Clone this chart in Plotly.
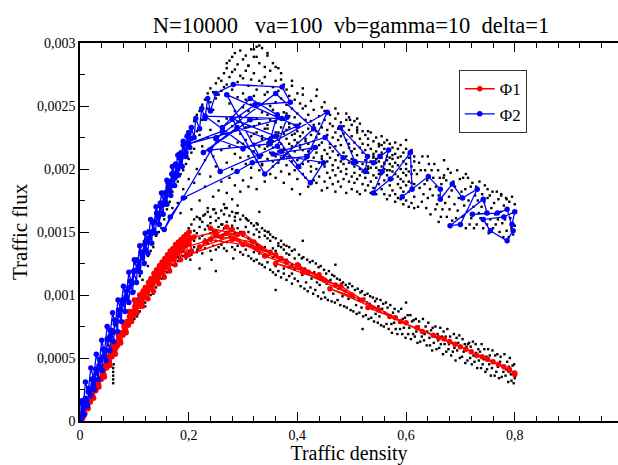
import plotly.graph_objects as go

# ---------------- data (flux values below are in units of 1e-4) ----------------
x_ticks = [0, 0.2, 0.4, 0.6, 0.8]
x_ticktext = ["0", "0,2", "0,4", "0,6", "0,8"]
y_ticks = [0, 0.0005, 0.001, 0.0015, 0.002, 0.0025, 0.003]
y_ticktext = ["0", "0,0005", "0,001", "0,0015", "0,002", "0,0025", "0,003"]

# black simulation points read column by column: (density, [lower-branch flux], [upper-branch flux])
cloud_columns = [
    (0.100,[8.1,9.4,8.8],[10.3,12.5,11.8]),
    (0.105,[9.7,8.5,9.2,8.3],[12.9,10.9]),
    (0.110,[9.0,10.1,8.7],[11.5,13.4,12.2]),
    (0.115,[10.4,9.3,9.9],[12.8,11.2,14.0]),
    (0.120,[9.4,10.7,10.1,9.1],[14.4,12.6]),
    (0.125,[10.9,9.8,10.4],[13.1,15.1,12.3]),
    (0.130,[10.0,11.4,10.8],[14.6,13.5]),
    (0.135,[11.6,10.3,11.0,10.1],[13.8,15.9,14.9]),
    (0.140,[10.6,12.0,11.3],[16.2,14.7]),
    (0.145,[11.9,10.9,12.4],[15.0,17.0,15.9]),
    (0.150,[11.3,12.7,11.7,12.1],[16.6,15.3]),
    (0.155,[12.9,11.6,12.4],[17.5,16.0,18.1]),
    (0.160,[11.8,13.2,12.6],[16.8,18.6]),
    (0.165,[13.4,12.1,12.9,11.9],[17.4,19.1,18.0]),
    (0.170,[12.4,13.7,13.0],[19.5,18.2,16.9]),
    (0.175,[13.9,12.5,13.3],[18.6,20.3,19.4]),
    (0.180,[12.7,14.2,13.6,13.0],[19.0,20.8,17.3]),
    (0.185,[14.4,12.8,13.9],[20.5,19.6,21.4,16.5]),
    (0.190,[13.1,14.7,13.5],[21.2,19.9,18.4]),
    (0.195,[14.9,13.3,14.2,12.9],[20.4,22.1,17.7]),
    (0.200,[13.5,15.3,14.0],[21.6,22.8,20.8,19.2]),
    (0.205,[15.6,13.2,14.6],[23.2,21.3,16.8]),
    (0.210,[13.8,15.1,14.3,16.0],[22.4,23.8,18.9,21.6]),
    (0.215,[14.9,13.4,16.2],[23.0,24.3,20.0]),
    (0.220,[16.1,13.9,15.4,14.5],[24.6,22.7,17.5,19.6]),
    (0.225,[13.3,15.8,14.7],[23.9,25.1,21.8]),
    (0.230,[15.2,16.4,13.7,14.4],[25.5,24.2,18.6,20.7]),
    (0.235,[14.1,16.6,15.5],[24.8,26.0,22.5,16.9]),
    (0.240,[16.2,13.5,14.9,15.7],[25.3,26.4,19.4,23.1]),
    (0.245,[13.9,16.8,15.1],[26.1,24.7,21.0,17.8]),
    (0.250,[15.9,14.3,16.5,13.6],[26.8,25.6,20.2,22.6]),
    (0.255,[14.6,16.1,13.8,15.4],[25.9,27.2,18.3,23.8]),
    (0.260,[16.7,14.0,15.6],[27.0,26.2,21.5,19.0]),
    (0.265,[13.7,15.3,16.4,14.8],[26.5,27.6,22.9,17.2]),
    (0.270,[15.8,14.2,16.9,13.5],[28.0,26.7,24.0,20.5,18.1]),
    (0.275,[14.6,16.3,15.1],[27.3,28.6,21.8,25.2,19.3]),
    (0.280,[16.6,13.8,15.5,14.4],[26.3,28.9,23.4,20.0,27.7,17.6]),
    (0.285,[13.6,15.9,14.9,16.2],[27.9,24.6,21.2,29.2,18.7]),
    (0.290,[15.3,16.5,13.9],[25.7,28.3,22.1,26.9,19.8,23.7]),
    (0.295,[14.2,13.4,16.0,15.0],[27.4,24.2,29.4,20.9,22.8,18.2]),
    (0.300,[16.3,14.7,13.2],[26.0,28.7,21.5,24.9,19.1,27.2]),
    (0.305,[15.4,13.6,16.1,14.0],[23.3,29.0,25.5,20.4,27.8,22.3]),
    (0.310,[13.1,15.0,14.5,15.9],[28.2,24.6,21.0,26.6,18.6,23.9]),
    (0.315,[15.7,12.9,14.2],[25.1,29.5,22.6,27.1,20.1,19.3]),
    (0.320,[14.8,13.4,15.5,12.7],[27.6,23.4,28.9,21.4,25.8,22.0]),
    (0.325,[12.8,15.2,14.0,15.7],[24.0,29.7,26.3,20.7,22.9,18.4]),
    (0.330,[15.0,13.3,12.5,14.6],[28.4,25.2,21.8,27.0,23.6,19.9]),
    (0.335,[13.7,15.3,12.4],[26.8,29.6,22.4,24.5,20.3,21.1]),
    (0.340,[14.7,12.2,13.8,15.1],[23.2,28.1,25.9,21.6,27.3,19.0]),
    (0.345,[12.6,14.5,13.1,15.0],[29.0,24.3,22.1,26.1,20.8,23.5]),
    (0.350,[14.3,12.0,14.8,13.4],[25.0,27.8,21.3,23.9,19.6,22.5]),
    (0.355,[13.0,14.6,11.8,13.7],[28.4,22.2,24.7,20.2,26.5,21.7]),
    (0.360,[14.5,12.3,13.5,11.6],[23.7,27.0,21.0,25.3,19.3,22.9]),
    (0.365,[11.9,14.1,12.7,13.9],[26.2,22.6,24.1,20.5,28.0,21.4]),
    (0.370,[13.8,11.4,12.9,14.3],[22.0,25.6,23.3,19.8,27.1,20.9]),
    (0.375,[12.1,13.6,11.7,14.0],[24.5,21.6,26.7,22.8,18.9,23.9]),
    (0.380,[13.9,11.2,12.8,13.3],[21.2,25.1,23.1,20.3,26.3,22.4]),
    (0.385,[11.5,13.2,12.2,13.8],[24.2,22.0,19.6,25.8,21.0,23.6]),
    (0.390,[13.5,10.9,12.4,11.7],[20.6,24.8,22.7,26.6,21.8,18.4]),
    (0.395,[12.0,13.6,11.3,12.9],[23.5,21.4,25.5,19.9,22.3,24.1]),
    (0.400,[],[22.1,24.4,20.7,26.0,23.0,19.2]),
    (0.405,[],[25.2,21.7,23.6,20.1,22.6,18.0]),
    (0.410,[],[22.9,20.4,24.8,21.5,25.9,19.6]),
    (0.415,[],[21.1,23.9,19.3,22.2,25.0,20.8]),
    (0.420,[],[24.3,22.0,20.6,23.2,18.6,21.4]),
    (0.425,[],[22.7,25.4,19.8,21.6,23.8,20.2]),
    (0.430,[],[20.9,23.5,22.2,24.7,19.1,21.8]),
    (0.435,[],[23.0,21.3,25.8,20.0,22.5,18.9]),
    (0.440,[],[21.9,24.2,20.5,22.8,19.4,23.6]),
    (0.445,[],[24.9,21.0,23.3,20.8,22.1,18.3]),
    (0.450,[],[22.4,20.2,23.9,21.5,19.0,24.6]),
    (0.455,[],[21.2,23.1,19.7,22.7,20.6,18.5]),
    (0.460,[],[23.6,20.9,22.0,24.3,19.3,21.7]),
    (0.465,[],[22.5,20.3,21.4,23.4,18.8,19.9]),
    (0.470,[],[20.7,22.9,21.8,24.0,19.5,18.2]),
    (0.475,[],[23.2,21.1,20.1,22.3,19.0,24.4]),
    (0.480,[],[21.9,19.8,23.7,20.6,22.6,18.6]),
    (0.485,[],[20.4,22.8,21.3,19.2,23.4,20.9]),
    (0.490,[],[22.3,21.0,19.6,23.9,20.0,18.1]),
    (0.495,[],[21.7,23.1,20.5,19.0,22.0,24.1]),
    (0.500,[],[20.8,22.6,19.4,21.4,23.5,18.4]),
    (0.505,[],[22.1,20.2,23.8,19.7,21.6,18.9]),
    (0.510,[],[21.1,19.2,22.9,20.5,18.2,23.3]),
    (0.515,[],[20.0,22.4,21.7,19.5,23.6,18.0]),
    (0.520,[],[22.0,20.4,18.8,21.3,19.8,23.0]),
    (0.525,[],[21.5,19.3,22.7,20.7,18.3,20.0]),
    (0.530,[],[20.2,21.9,19.7,22.4,18.7,21.1]),
    (0.535,[],[21.6,19.0,20.6,22.9,20.1,18.1]),
    (0.540,[],[19.5,21.2,20.4,22.2,18.5,20.9]),
    (0.545,[],[20.8,22.5,19.3,21.4,18.0,20.1]),
    (0.550,[],[21.8,19.9,20.6,18.8,22.0,21.1]),
    (0.555,[],[19.6,21.3,20.2,22.6,18.4,20.9]),
    (0.560,[],[20.5,22.1,19.1,21.6,18.0,20.0]),
    (0.565,[],[21.0,19.5,20.7,22.3,17.6,19.9]),
    (0.570,[],[19.9,21.5,18.7,20.4,22.0,17.9]),
    (0.575,[],[20.8,19.2,21.7,18.3,20.2,21.1]),
    (0.580,[],[19.6,21.2,20.5,18.0,22.1,17.4]),
    (0.585,[],[20.3,18.8,21.6,19.4,17.7,20.9]),
    (0.590,[],[21.0,19.2,20.0,17.6,21.9,18.5]),
    (0.595,[],[19.7,21.3,18.2,20.6,17.2,19.0]),
    (0.600,[],[20.4,18.7,21.6,19.5,17.5,20.0]),
    (0.605,[],[19.0,20.9,18.2,21.2,17.0,19.8]),
    (0.610,[],[20.2,18.5,19.6,21.5,17.3,18.9]),
    (0.615,[],[18.8,20.6,17.8,19.9,21.0,16.9]),
]

# black points of the lower branch tail, read individually (density, flux)
lower_tail = [
    (0.401,11.1),(0.403,13.2),(0.404,12.4),(0.406,10.7),(0.408,12.9),(0.409,11.6),(0.411,13.0),
    (0.413,10.5),(0.414,12.1),(0.416,11.0),(0.418,12.8),(0.419,10.3),(0.421,11.9),(0.423,12.6),
    (0.424,10.6),(0.426,11.3),(0.428,12.7),(0.429,10.1),(0.431,11.8),(0.433,10.4),(0.434,12.5),
    (0.436,11.0),(0.438,9.9),(0.439,12.2),(0.441,10.8),(0.443,12.3),(0.444,9.7),(0.446,11.4),
    (0.448,10.2),(0.449,12.0),(0.451,9.8),(0.453,11.7),(0.454,10.9),(0.456,9.6),(0.458,11.9),
    (0.459,10.4),(0.461,11.2),(0.463,9.5),(0.464,11.6),(0.466,10.1),(0.468,11.5),(0.469,9.4),
    (0.471,10.8),(0.473,11.3),(0.474,9.6),(0.476,10.5),(0.478,11.2),(0.479,9.2),(0.481,10.9),
    (0.483,9.9),(0.484,11.0),(0.486,9.1),(0.488,10.3),(0.489,10.8),(0.491,9.0),(0.493,10.6),
    (0.494,9.7),(0.496,10.9),(0.498,8.8),(0.499,10.1),(0.501,10.7),(0.503,8.7),(0.504,9.8),
    (0.506,10.4),(0.508,9.2),(0.509,8.5),(0.511,10.5),(0.513,9.6),(0.514,8.6),(0.516,10.2),
    (0.518,9.0),(0.519,10.3),(0.521,8.3),(0.523,9.7),(0.524,10.0),(0.526,8.4),(0.528,9.4),
    (0.529,10.1),(0.531,8.1),(0.533,9.3),(0.534,9.9),(0.536,8.2),(0.538,8.9),(0.539,9.8),
    (0.541,7.9),(0.543,9.5),(0.544,8.5),(0.546,9.7),(0.548,7.8),(0.549,9.1),(0.551,8.3),
    (0.553,9.6),(0.554,7.6),(0.556,8.9),(0.558,9.3),(0.559,7.5),(0.561,8.6),(0.563,9.4),
    (0.564,7.7),
    (0.566,9.0),(0.568,7.3),(0.569,8.3),(0.571,9.2),(0.573,7.7),(0.574,7.0),(0.576,8.6),
    (0.578,7.8),(0.579,8.9),(0.581,7.3),(0.583,8.2),(0.584,6.9),(0.586,8.7),(0.588,7.8),
    (0.589,7.3),(0.591,8.9),(0.593,6.9),(0.594,8.1),(0.596,7.4),(0.598,8.2),(0.599,6.6),
    (0.601,7.8),(0.603,8.4),(0.604,6.9),(0.606,7.4),(0.608,8.4),(0.609,6.5),(0.611,7.9),
    (0.613,6.9),(0.614,8.0),(0.616,6.7),(0.618,8.1),(0.619,7.1),(0.621,6.2),(0.623,7.5),
    (0.624,7.9),(0.626,6.3),(0.628,7.2),(0.629,6.7),(0.631,8.1),(0.633,6.4),(0.634,6.9),
    (0.636,7.5),(0.638,6.0),(0.639,7.1),(0.641,7.8),(0.643,6.6),(0.644,6.0),(0.646,7.2),
    (0.648,5.6),(0.649,7.4),(0.651,6.2),(0.653,6.7),(0.654,7.5),(0.656,5.7),(0.658,6.9),
    (0.659,6.4),(0.661,5.8),(0.663,7.4),(0.664,6.1),(0.666,6.7),(0.668,5.3),(0.669,7.1),
    (0.671,6.1),(0.673,6.7),(0.674,5.5),(0.676,7.3),(0.678,5.7),(0.679,6.1),(0.681,6.7),
    (0.683,5.2),(0.684,6.2),(0.686,5.5),(0.688,6.9),(0.689,5.8),(0.691,4.8),(0.693,6.6),
    (0.694,5.6),(0.696,6.2),(0.698,6.8),(0.699,5.0),(0.701,5.9),(0.703,5.1),(0.704,6.5),
    (0.706,5.5),(0.708,6.1),(0.709,4.6),(0.711,5.9),(0.713,4.8),(0.714,6.1),(0.716,6.2),
    (0.718,5.0),(0.719,5.9),(0.721,4.5),(0.723,6.3),(0.724,5.2),(0.726,4.7),(0.728,6.1),
    (0.729,5.4),(0.731,4.2),(0.733,5.7),(0.734,4.8),(0.736,5.5),(0.738,4.2),(0.739,6.1),
    (0.741,4.5),(0.743,4.9),(0.744,5.7),(0.746,3.9),(0.748,5.1),(0.749,4.1),(0.751,5.7),
    (0.753,4.5),(0.754,5.2),(0.756,3.6),(0.758,4.2),(0.759,5.6),(0.761,4.7),(0.763,3.6),
    (0.764,5.2),(0.766,3.9),(0.768,5.3),(0.769,4.3),(0.771,3.4),(0.773,4.7),(0.774,5.1),
    (0.776,3.5),(0.778,4.4),(0.779,3.9),(0.781,5.3),(0.783,3.6),(0.784,4.1),(0.786,4.7),
    (0.788,3.1),(0.789,4.3),(0.791,5.0),(0.793,3.7),(0.794,3.2),(0.796,4.4),(0.798,3.0),
    (0.799,4.5),(0.800,3.4),
]

# black points of the upper branch tail, read individually (density, flux)
upper_tail = [
    (0.620,19.6),(0.622,17.0),(0.624,20.5),(0.625,18.5),(0.627,19.9),(0.629,17.4),(0.630,21.0),
    (0.632,18.0),(0.634,18.8),(0.635,19.9),(0.637,16.9),(0.639,19.1),(0.640,17.7),(0.642,20.4),
    (0.644,18.4),(0.645,16.4),(0.647,19.9),(0.649,17.9),(0.650,19.3),(0.652,20.4),(0.654,16.8),
    (0.655,18.6),(0.657,17.2),(0.659,19.9),(0.660,17.9),(0.662,19.3),(0.664,16.2),(0.665,18.8),
    (0.667,16.8),(0.669,19.3),
    (0.670,19.5),(0.672,17.3),(0.674,19.1),(0.675,16.2),(0.677,20.0),(0.679,17.8),(0.680,16.8),
    (0.682,19.7),(0.684,18.3),(0.685,15.9),(0.687,19.0),(0.689,17.2),(0.690,18.6),(0.692,16.1),
    (0.694,19.9),(0.695,16.7),(0.697,17.7),(0.699,19.2),(0.700,15.6),(0.702,18.2),(0.704,16.2),
    (0.705,19.3),(0.707,17.1),(0.709,18.4),(0.710,15.3),(0.712,16.6),(0.714,19.3),(0.715,17.5),
    (0.717,15.6),(0.719,18.6),
    (0.720,16.1),(0.722,18.9),(0.724,17.0),(0.725,15.3),(0.727,17.9),(0.729,18.6),(0.730,15.6),
    (0.732,17.5),(0.734,16.5),(0.735,19.0),(0.737,16.1),(0.739,17.0),(0.740,18.0),(0.742,15.3),
    (0.744,17.4),(0.745,18.7),(0.747,16.5),(0.749,15.6),(0.750,17.7),(0.752,14.9),(0.754,17.9),
    (0.755,16.0),(0.757,16.9),(0.759,18.2),(0.760,15.3),(0.762,17.3),(0.764,16.4),(0.765,15.6),
    (0.767,18.2),(0.769,16.0),
    (0.770,17.6),(0.772,15.0),(0.774,16.6),(0.775,18.0),(0.777,15.7),(0.779,14.6),(0.780,17.1),
    (0.782,16.0),(0.784,17.7),(0.785,15.1),(0.787,16.7),(0.789,14.6),(0.790,17.4),(0.792,16.1),
    (0.794,15.3),(0.795,17.8),(0.797,14.8),(0.799,16.6),(0.800,15.5),
]

# further black simulation points read individually (density, flux)
extra_points = [
    (0.061,3.0),(0.061,3.3),(0.061,3.6),(0.061,3.9),(0.061,4.2),(0.062,4.5),
    (0.198,15.0),(0.203,12.8),(0.221,16.0),(0.216,13.6),(0.227,16.3),(0.247,16.8),(0.242,12.8),
    (0.267,16.9),(0.262,15.6),(0.287,16.5),(0.282,12.9),(0.307,16.0),(0.327,15.6),(0.347,15.0),
    (0.33,16.6),(0.29,17.1),(0.41,14.3),(0.25,11.9),(0.36,10.4),(0.47,12.4),(0.52,7.3),
    (0.60,9.4),(0.22,12.1),
    (0.270,28.4),(0.320,29.5),(0.330,29.8),(0.345,29.2),(0.325,28.9),(0.310,28.2),(0.360,28.1),
    (0.370,27.6),(0.390,27.0),(0.410,26.4),(0.436,26.3),(0.450,25.3),(0.470,24.8),(0.490,24.4),
    (0.510,24.0),(0.530,23.0),(0.497,23.9),
    (0.300,22.0),(0.320,22.8),(0.335,20.4),(0.345,23.2),(0.355,22.5),(0.365,21.7),(0.375,20.9),
    (0.385,19.6),(0.395,22.8),(0.405,21.9),(0.415,22.4),(0.330,23.6),(0.360,23.8),(0.380,24.4),
    (0.310,23.4),(0.355,20.6),(0.365,22.9),(0.375,21.5),(0.345,21.8),(0.335,22.6),(0.385,23.3),
    (0.530,20.0),(0.540,21.0),(0.550,19.6),(0.560,20.4),(0.570,20.9),(0.545,20.5),(0.555,21.9),
    (0.575,19.8),(0.600,22.3),(0.510,23.1),(0.670,20.7),(0.710,19.6),(0.640,21.0),(0.660,15.8),
    (0.785,17.6),(0.800,17.2),(0.750,18.4),(0.775,17.9),
]

# Phi1 trajectory (red), (density, flux)
phi1 = [
    (0.000,0.0),(0.006,0.4),(0.012,1.2),(0.018,1.5),(0.024,2.3),(0.030,2.6),(0.036,3.4),
    (0.042,3.7),(0.048,4.5),(0.054,4.8),(0.060,5.6),(0.066,5.8),(0.072,6.6),(0.078,6.9),
    (0.084,7.6),(0.090,7.9),(0.096,8.6),(0.102,8.9),(0.108,9.5),(0.114,9.8),(0.120,10.4),
    (0.126,10.6),(0.132,11.2),(0.138,11.4),(0.144,11.9),(0.150,12.1),(0.156,12.6),(0.162,12.8),
    (0.168,13.2),(0.174,13.4),(0.180,13.7),(0.186,13.9),(0.192,14.2),(0.198,14.3),(0.204,14.5),
    (0.205,13.5),(0.200,14.6),(0.195,13.1),(0.190,14.2),(0.185,12.8),(0.180,13.9),(0.175,12.4),
    (0.170,13.4),(0.165,11.9),(0.160,12.9),(0.155,11.4),(0.150,12.4),(0.145,10.9),(0.140,11.8),
    (0.135,10.3),(0.130,11.2),(0.125,9.7),(0.120,10.6),(0.115,9.1),(0.110,10.0),(0.105,8.6),
    (0.100,9.6),(0.095,7.9),(0.090,8.7),(0.085,7.0),(0.080,7.8),(0.075,6.2),(0.070,6.9),
    (0.065,5.3),(0.060,6.0),(0.055,4.4),(0.050,5.1),(0.045,3.5),(0.040,4.2),(0.035,2.7),
    (0.030,3.3),(0.025,1.8),(0.020,2.4),(0.015,1.0),(0.010,1.5),(0.005,0.2),(0.002,0.6),
    (0.002,0.2),(0.006,0.7),(0.005,0.3),(0.011,1.1),(0.009,0.6),(0.016,1.6),(0.014,1.0),
    (0.021,2.0),(0.019,1.5),(0.026,2.5),(0.024,1.9),(0.031,3.0),(0.029,2.4),(0.036,3.4),
    (0.034,2.9),(0.041,3.9),(0.039,3.3),(0.046,4.4),(0.044,3.7),(0.051,4.8),(0.049,4.2),
    (0.056,5.3),(0.054,4.6),(0.061,5.7),(0.059,5.1),(0.066,6.2),(0.064,5.5),(0.071,6.6),
    (0.069,6.0),(0.076,7.0),(0.074,6.4),(0.081,7.5),(0.079,6.8),(0.086,7.9),(0.084,7.2),
    (0.091,8.3),(0.089,7.6),(0.096,8.7),(0.094,8.0),(0.101,9.1),(0.099,8.4),(0.106,9.5),
    (0.104,8.7),(0.111,9.9),(0.109,9.1),(0.116,10.3),(0.114,9.5),(0.121,10.6),(0.119,9.8),
    (0.126,11.0),(0.124,10.2),(0.131,11.3),(0.129,10.5),(0.136,11.7),(0.134,10.8),(0.141,12.0),
    (0.139,11.1),(0.146,12.3),(0.144,11.4),(0.151,12.6),(0.149,11.7),(0.156,12.9),(0.154,12.0),
    (0.161,13.2),(0.159,12.2),(0.166,13.5),(0.164,12.5),(0.171,13.7),(0.169,12.8),(0.176,14.0),
    (0.174,13.0),(0.181,14.2),(0.179,13.3),(0.186,14.4),(0.184,13.5),(0.191,14.6),(0.189,13.7),
    (0.196,14.8),(0.194,13.9),(0.201,15.0),(0.199,14.1),
    (0.21,14.6),(0.25,15.0),(0.23,14.2),(0.28,15.2),(0.26,14.6),(0.24,15.3),(0.29,14.8),
    (0.22,13.8),(0.27,15.4),(0.32,14.2),(0.25,14.7),(0.30,14.9),(0.35,13.4),(0.28,14.4),
    (0.20,13.2),(0.18,13.6),(0.24,14.4),(0.33,13.8),(0.38,12.6),(0.30,14.0),(0.36,13.2),
    (0.42,11.8),(0.34,13.1),(0.27,14.9),(0.37,12.9),(0.45,11.2),(0.40,12.4),(0.47,10.8),
    (0.36,12.5),(0.44,11.6),(0.50,10.0),(0.41,11.8),(0.48,10.7),(0.55,8.8),(0.46,10.5),
    (0.52,9.6),(0.58,8.2),(0.53,9.0),(0.60,7.8),(0.57,8.3),(0.63,7.1),(0.59,7.9),(0.66,6.6),
    (0.62,7.4),(0.68,6.3),(0.65,6.8),(0.70,5.9),(0.67,6.5),(0.72,5.5),(0.69,6.1),(0.74,5.1),
    (0.71,5.7),(0.76,4.7),(0.73,5.2),(0.78,4.3),(0.75,4.9),(0.79,4.0),(0.77,4.5),(0.80,3.8),
    (0.79,4.1),(0.80,3.7),
]

# Phi2 trajectory (blue), (density, flux)
phi2 = [
    (0.000,0.0),(0.006,1.0),(0.012,1.5),(0.018,2.4),(0.024,2.9),(0.030,3.8),(0.036,4.2),
    (0.042,5.1),(0.048,5.6),(0.054,6.5),(0.060,7.0),(0.066,7.9),(0.072,8.4),(0.078,9.3),
    (0.084,9.7),(0.090,10.6),(0.096,11.0),(0.102,11.9),(0.108,12.3),(0.114,13.2),(0.120,13.6),
    (0.126,14.5),(0.132,14.9),(0.138,15.8),(0.144,16.2),(0.150,17.1),(0.156,17.4),(0.162,18.3),
    (0.168,18.7),(0.174,19.6),(0.180,20.0),(0.186,20.9),(0.192,21.2),(0.198,22.0),(0.204,22.4),
    (0.200,22.9),(0.195,21.3),(0.190,22.2),(0.185,20.3),(0.180,21.1),(0.175,19.3),(0.170,20.2),
    (0.165,18.4),(0.160,19.1),(0.155,17.2),(0.150,18.1),(0.145,16.3),(0.140,17.0),(0.135,15.1),
    (0.130,16.0),(0.125,14.2),(0.120,14.9),(0.115,13.0),(0.110,13.9),(0.105,12.0),(0.100,12.8),
    (0.095,10.9),(0.090,11.8),(0.085,9.9),(0.080,10.7),(0.075,8.8),(0.070,9.6),(0.065,7.7),
    (0.060,8.6),(0.055,6.7),(0.050,7.5),(0.045,5.5),(0.040,6.4),(0.035,4.4),(0.030,5.3),
    (0.025,3.4),(0.020,4.2),(0.015,2.3),(0.010,3.1),(0.006,1.2),(0.003,1.6),(0.001,0.1),
    (0.002,0.3),(0.004,1.4),(0.008,0.5),(0.010,1.8),(0.014,1.2),(0.016,2.6),(0.020,2.0),
    (0.022,3.3),(0.027,2.5),(0.029,4.1),(0.034,3.3),(0.036,4.9),(0.041,4.0),(0.043,5.7),
    (0.048,4.8),(0.050,6.5),(0.055,5.6),(0.057,7.2),(0.062,6.3),(0.064,8.0),(0.069,7.1),
    (0.071,8.8),(0.076,7.9),(0.078,9.6),(0.083,8.7),(0.085,10.3),(0.090,9.4),(0.092,11.1),
    (0.097,10.2),(0.099,11.9),(0.104,11.0),(0.106,12.7),(0.111,11.8),(0.113,13.4),(0.118,12.5),
    (0.120,14.2),(0.125,13.3),(0.127,15.0),(0.132,14.1),(0.134,15.8),(0.139,14.9),(0.141,16.5),
    (0.146,15.6),(0.148,17.3),(0.153,16.4),(0.155,18.1),(0.160,17.2),(0.162,18.9),(0.167,17.9),
    (0.169,19.6),(0.174,18.7),(0.176,20.4),(0.181,19.5),(0.183,21.2),(0.188,20.2),(0.190,21.9),
    (0.195,21.0),(0.197,22.6),(0.202,21.7),(0.205,23.3),(0.210,22.5),(0.213,24.0),(0.220,23.2),
    (0.224,24.8),(0.230,24.0),(0.235,25.6),(0.240,24.6),(0.250,26.0),
    (0.282,26.7),(0.372,26.5),(0.387,25.3),(0.322,25.1),(0.262,23.3),(0.313,25.6),(0.363,24.3),
    (0.350,22.3),(0.289,23.3),(0.227,21.3),(0.313,23.9),(0.381,24.1),(0.363,21.8),(0.258,19.8),
    (0.239,21.5),(0.350,22.0),(0.455,24.5),(0.418,21.0),(0.317,20.5),(0.289,19.8),(0.190,17.7),
    (0.166,16.2),(0.155,15.2),(0.262,23.0),
    (0.200,22.0),(0.371,24.0),(0.230,24.2),(0.330,21.0),(0.270,25.9),(0.400,23.4),(0.300,21.6),
    (0.250,22.4),(0.360,26.0),(0.430,23.2),(0.340,19.6),(0.280,24.0),
    (0.360,22.6),(0.402,20.2),(0.433,21.7),(0.355,21.2),
    (0.448,20.5),(0.424,18.9),(0.370,21.4),(0.451,22.5),(0.484,20.9),(0.503,20.5),(0.525,19.8),
    (0.529,21.0),(0.479,23.3),(0.506,20.6),(0.540,20.5),(0.552,21.0),(0.568,21.5),(0.556,19.8),
    (0.540,18.1),(0.571,19.2),(0.608,21.3),(0.611,18.4),(0.593,17.8),(0.641,19.4),(0.663,18.4),
    (0.663,17.6),(0.685,18.8),(0.704,17.7),(0.731,18.4),(0.700,15.6),(0.681,15.5),(0.742,17.6),
    (0.749,16.5),(0.722,16.4),(0.768,16.5),(0.786,16.8),(0.797,15.1),(0.786,14.3),(0.755,15.1),
    (0.742,16.0),(0.780,16.2),(0.800,16.6),(0.795,15.6),
]

FLUX_UNIT = 1e-4  # all flux numbers above are in units of 1e-4


def unzip(pairs):
    return [p[0] for p in pairs], [p[1] * FLUX_UNIT for p in pairs]


cloud_pairs = []
for dens, low, up in cloud_columns:
    for f in low + up:
        cloud_pairs.append((dens, f))
cloud_pairs += lower_tail + upper_tail + extra_points

serif = "Liberation Serif, Times New Roman, serif"

fig = go.Figure()

cx, cy = unzip(cloud_pairs)
fig.add_trace(go.Scatter(
    x=cx, y=cy, mode="markers", showlegend=False, hoverinfo="skip",
    marker=dict(symbol="square", size=2.4, color="black", line=dict(width=0)),
))

r_x, r_y = unzip(phi1)
fig.add_trace(go.Scatter(
    x=r_x, y=r_y, mode="lines+markers", name="\u03a61",
    line=dict(color="#ff0000", width=1.3),
    marker=dict(color="#ff0000", size=5.5),
))

b_x, b_y = unzip(phi2)
fig.add_trace(go.Scatter(
    x=b_x, y=b_y, mode="lines+markers", name="\u03a62",
    line=dict(color="#0000ff", width=1.3),
    marker=dict(color="#0000ff", size=5.5),
))

nb = "\u00a0"
title_text = "N=10000" + nb * 3 + "va=100" + nb * 2 + "vb=gamma=10" + nb * 2 + "delta=1"

fig.update_layout(
    width=618, height=465,
    margin=dict(l=80, r=0, t=43, b=42),
    paper_bgcolor="white", plot_bgcolor="white",
    font=dict(family=serif, color="black", size=14),
    title=dict(text=title_text, x=351 / 618, xanchor="center", xref="container",
               y=1 - 25 / 465, yanchor="middle", yref="container",
               font=dict(family=serif, size=22.5, color="black")),
    showlegend=True,
    legend=dict(x=0.704, y=0.928, xanchor="left", yanchor="top",
                bgcolor="white", bordercolor="#333333", borderwidth=1,
                font=dict(family=serif, size=17, color="black"),
                tracegroupgap=0, itemwidth=30),
    xaxis=dict(
        range=[0, 0.99], showgrid=False, zeroline=False,
        showline=True, linecolor="black", linewidth=1.5, mirror="ticks",
        tickmode="array", tickvals=x_ticks, ticktext=x_ticktext,
        ticks="inside", ticklen=9, tickwidth=1.2, tickcolor="black",
        minor=dict(dtick=0.04, tick0=0, ticks="inside", ticklen=5, tickwidth=1, tickcolor="black"),
        tickfont=dict(family=serif, size=14, color="black"),
        title=dict(text="Traffic density", standoff=8,
                   font=dict(family=serif, size=20, color="black")),
    ),
    yaxis=dict(
        range=[0, 0.003], showgrid=False, zeroline=False,
        showline=True, linecolor="black", linewidth=1.5, mirror=False,
        tickmode="array", tickvals=y_ticks, ticktext=y_ticktext,
        ticks="inside", ticklen=9, tickwidth=1.2, tickcolor="black",
        minor=dict(dtick=0.00025, tick0=0, ticks="inside", ticklen=5, tickwidth=1, tickcolor="black"),
        tickfont=dict(family=serif, size=14, color="black"),
        title=dict(text="Traffic flux", standoff=4,
                   font=dict(family=serif, size=21, color="black")),
    ),
)

fig.write_html("out.html")
